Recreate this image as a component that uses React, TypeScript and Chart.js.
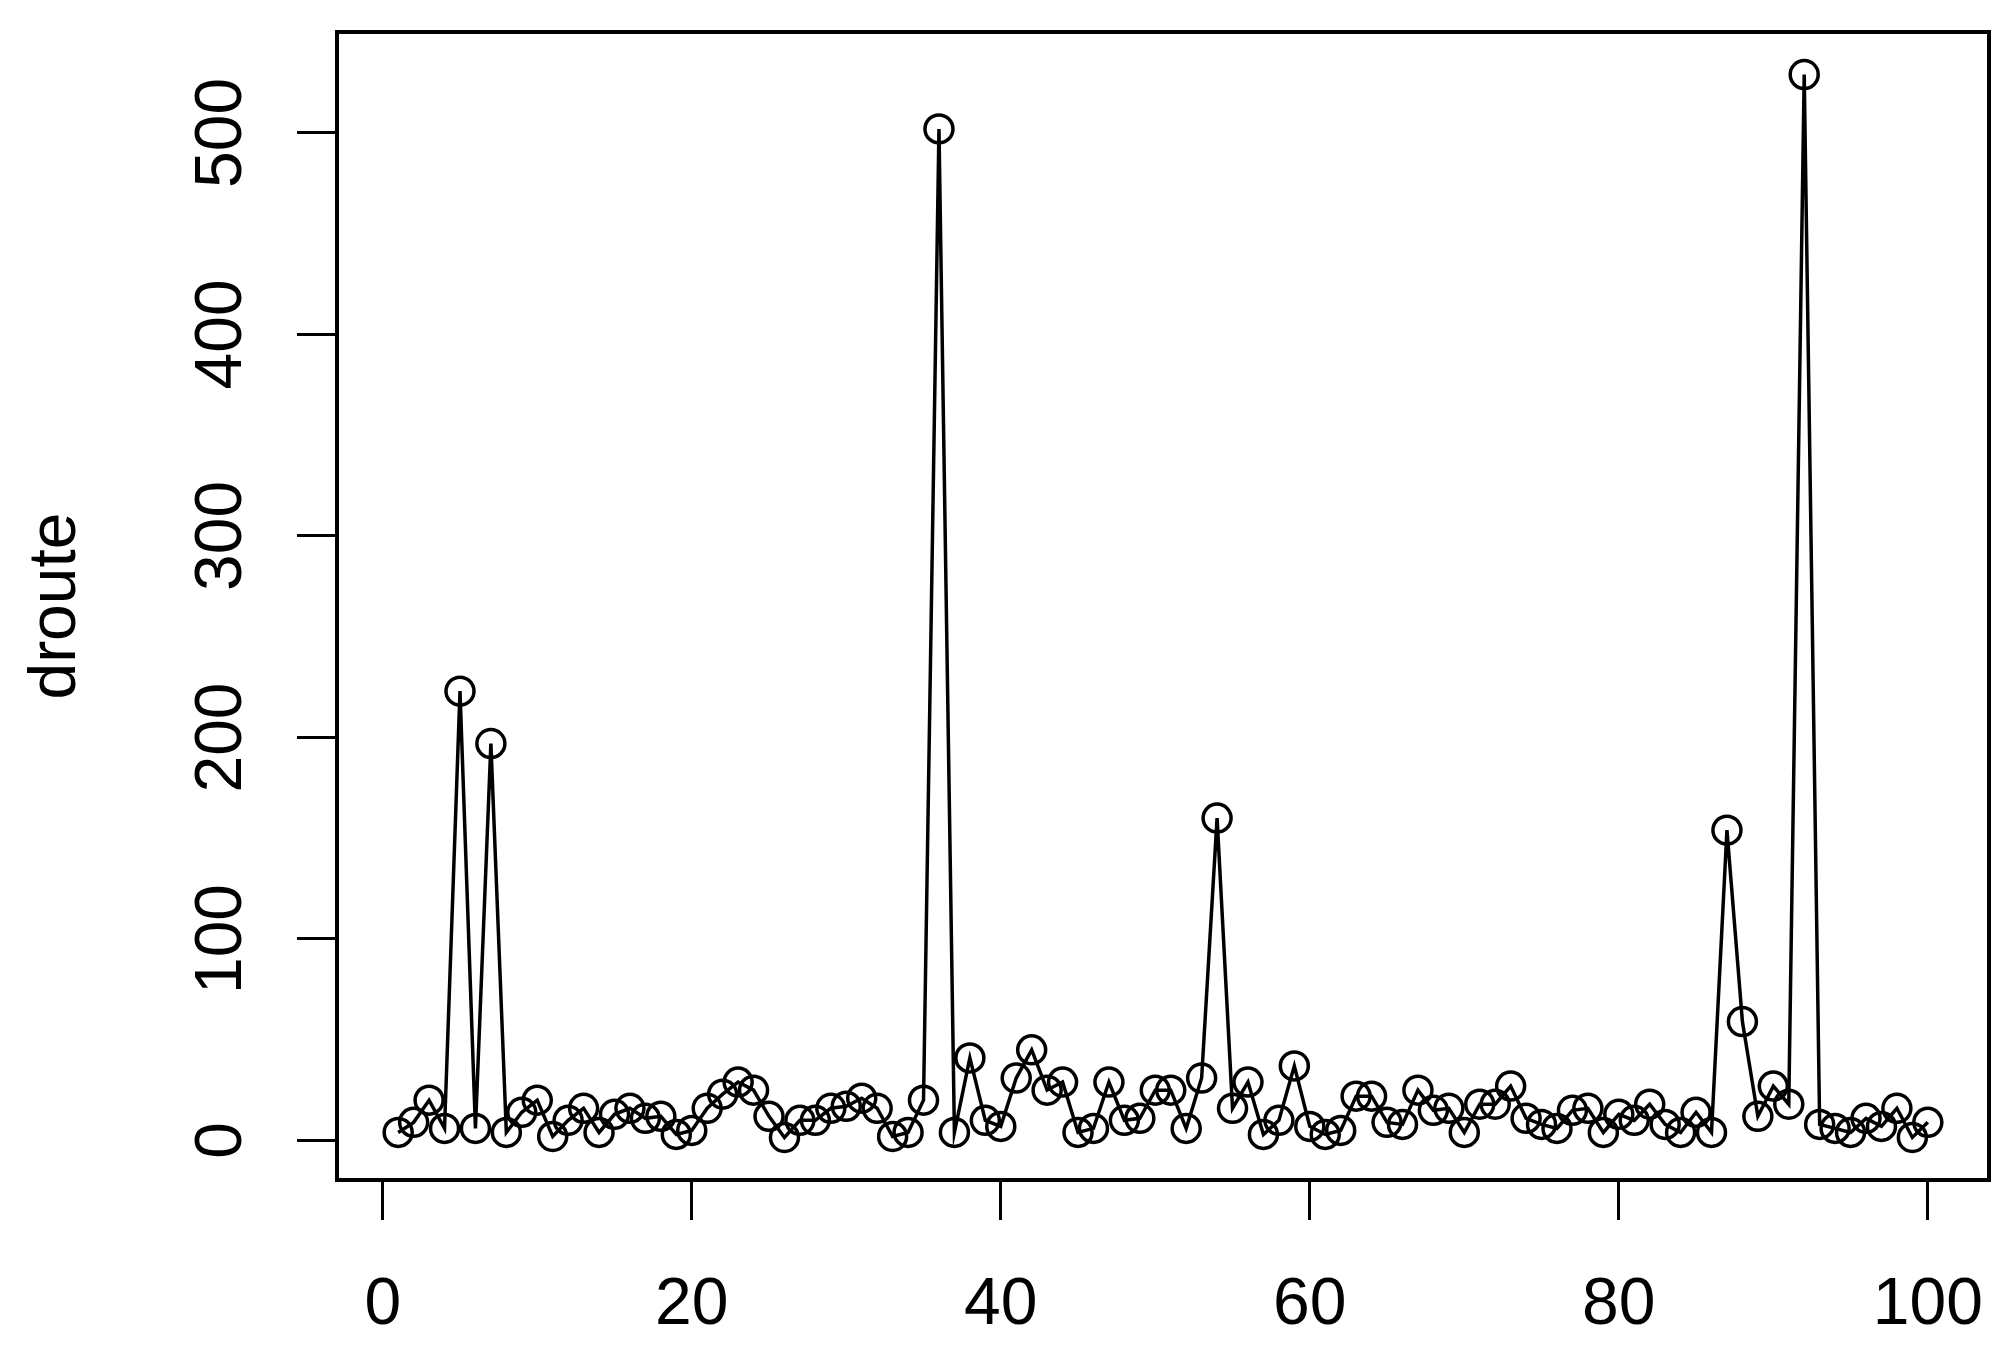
import React, { useEffect, useRef } from "react";
import { Chart, registerables } from "chart.js";

Chart.register(...registerables);

const droute: number[] = [
  4, 9, 20, 6, 223, 6, 197, 4, 14, 20,
  2, 10, 16, 4, 13, 16, 11, 12, 3, 5,
  16, 23, 29, 25, 12, 1.5, 10, 10, 16, 17,
  21, 16, 2, 4, 20, 502, 4, 41, 10, 7,
  31, 45, 25, 29, 4, 6, 29, 10, 11, 25,
  25, 6, 31, 160, 16, 29, 3, 10, 37, 7,
  3, 5, 22, 22, 9, 8, 25, 15, 16, 4,
  18, 18, 27, 11, 8, 6, 15, 16, 4, 13,
  10, 18, 8, 4, 14, 4, 154, 59, 12, 27,
  18, 529, 8, 6, 4, 11, 7, 16, 1.5, 9,
];

const xTicks: number[] = [0, 20, 40, 60, 80, 100];
const yTicks: number[] = [0, 100, 200, 300, 400, 500];
const yTitle = "droute";

const FONT = "'Liberation Sans', Arial, sans-serif";

const boxPlugin = {
  id: "rbox",
  afterDraw(chart: any) {
    const { ctx, chartArea } = chart;
    ctx.save();
    ctx.strokeStyle = "#000";
    ctx.lineWidth = 4;
    ctx.strokeRect(
      chartArea.left,
      chartArea.top,
      chartArea.right - chartArea.left,
      chartArea.bottom - chartArea.top
    );
    ctx.restore();
  },
};

export default function App() {
  const ref = useRef<HTMLCanvasElement | null>(null);

  useEffect(() => {
    document.body.style.margin = "0";
    const canvas = ref.current;
    if (!canvas) return;
    const n = droute.length;
    const xMin = 1 - 0.04 * (n - 1);
    const xMax = n + 0.04 * (n - 1);
    const dMin = Math.min(...droute);
    const dMax = Math.max(...droute);
    const yMin = dMin - 0.04 * (dMax - dMin);
    const yMax = dMax + 0.04 * (dMax - dMin);

    const chart = new Chart(canvas, {
      type: "line",
      data: {
        datasets: [
          {
            data: droute.map((v, i) => ({ x: i + 1, y: v })),
            borderColor: "#000",
            borderWidth: 3.5,
            pointRadius: 14,
            pointBorderWidth: 3.5,
            pointBorderColor: "#000",
            pointBackgroundColor: "rgba(0,0,0,0)",
            pointHoverRadius: 14,
            tension: 0,
            fill: false,
          },
        ],
      },
      plugins: [boxPlugin],
      options: {
        animation: false,
        responsive: false,
        maintainAspectRatio: false,
        events: [],
        layout: { padding: { top: 32, right: 23, left: 0, bottom: 0 } },
        plugins: {
          legend: { display: false },
          tooltip: { enabled: false },
          title: { display: false },
        },
        scales: {
          x: {
            type: "linear",
            min: xMin,
            max: xMax,
            afterBuildTicks: (scale: any) => {
              scale.ticks = xTicks.map((v) => ({ value: v }));
            },
            afterFit: (scale: any) => {
              scale.height = 190;
              scale.paddingLeft = 0;
              scale.paddingRight = 0;
            },
            grid: {
              drawOnChartArea: false,
              drawTicks: true,
              tickLength: 40,
              tickWidth: 3,
              tickColor: "#000",
            },
            border: { display: false },
            ticks: {
              color: "#000",
              font: { family: FONT, size: 66 },
              padding: 46,
              maxRotation: 0,
              minRotation: 0,
              autoSkip: false,
            },
          },
          y: {
            type: "linear",
            min: yMin,
            max: yMax,
            afterBuildTicks: (scale: any) => {
              scale.ticks = yTicks.map((v) => ({ value: v }));
            },
            afterFit: (scale: any) => {
              scale.width = 337;
              scale.paddingTop = 0;
              scale.paddingBottom = 0;
            },
            grid: {
              drawOnChartArea: false,
              drawTicks: true,
              tickLength: 40,
              tickWidth: 3,
              tickColor: "#000",
            },
            border: { display: false },
            title: {
              display: true,
              text: yTitle,
              color: "#000",
              font: { family: FONT, size: 66 },
              padding: { top: 17, bottom: 0 },
            },
            ticks: {
              color: "#000",
              font: { family: FONT, size: 66 },
              padding: 19,
              minRotation: 90,
              maxRotation: 90,
              crossAlign: "center",
              autoSkip: false,
            },
          },
        },
      },
    } as any);

    return () => {
      chart.destroy();
    };
  }, []);

  return (
    <div style={{ width: 2012, height: 1370, position: "relative" }}>
      <canvas ref={ref} width={2012} height={1370} style={{ display: "block" }} />
    </div>
  );
}
